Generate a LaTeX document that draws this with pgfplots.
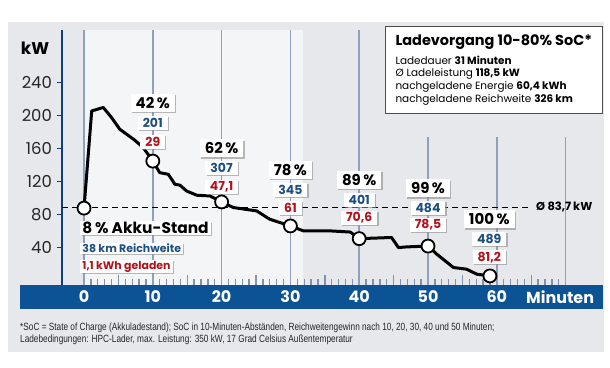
\documentclass[border=0pt]{standalone}
\usepackage{pgfplots}
\pgfplotsset{compat=1.18}
\usepackage{fontspec}
\setmainfont{Poppins}
\newfontfamily\cond[FakeStretch=0.79]{Liberation Sans}
\usetikzlibrary{shadows}
\definecolor{panel}{HTML}{E6E8EB}
\definecolor{lightreg}{HTML}{F4F5F6}
\definecolor{band}{HTML}{0B5394}
\definecolor{axisblue}{HTML}{0D3F7A}
\definecolor{gridc}{HTML}{8EA0BC}
\definecolor{minort}{HTML}{8191AB}
\definecolor{tblue}{HTML}{1D4F80}
\definecolor{tred}{HTML}{B3121B}
\tikzset{
  shad/.style={drop shadow={shadow xshift=1.2bp, shadow yshift=-1.2bp, fill=black!45, opacity=0.6}},
  pct/.style={fill=white, shad, font=\fontsize{15}{16}\selectfont\bfseries, inner xsep=5bp, inner ysep=1bp, minimum height=18bp},
  num/.style={fill=white, shad, font=\fontsize{12.5}{13}\selectfont\bfseries, inner xsep=5bp, inner ysep=0.5bp, minimum height=14bp},
  xl/.style={text=white, font=\fontsize{16}{17}\selectfont\bfseries},
}
\begin{document}
\begin{tikzpicture}
\begin{scope}[x=1bp,y=-1bp]
\fill[white] (0,0) rectangle (610,367);
\fill[panel] (8,22) rectangle (604,352);
\fill[band] (20,285) rectangle (603,309);
\fill[lightreg] (84,30) rectangle (303,285);
\end{scope}
\begin{axis}[
  at={(62bp,-285bp)}, anchor=south west, scale only axis,
  width=542bp, height=255bp,
  xmin=-3.2, xmax=75.58, ymin=-5.2, ymax=303.9,
  axis x line=none, axis y line=left,
  y axis line style={-, draw=axisblue, line width=1.6bp},
  ytick={40,80,...,240},
  ytick style={draw=axisblue, line width=1.3bp},
  tick align=outside, major tick length=4.6bp,
  yticklabel style={font=\fontsize{16.5}{18}\selectfont, text=black!85, xshift=-2bp},
  /pgf/number format/assume math mode=true,
  clip=false,
]
\pgfplotsinvokeforeach{0,10,20,30,40}{\draw[gridc, line width=1.5bp] (axis cs:#1,-5.2) -- (axis cs:#1,303.9);}
\pgfplotsinvokeforeach{50,60,70}{\draw[gridc, line width=1.5bp] (axis cs:#1,-5.2) -- (axis cs:#1,174);}
\pgfplotsinvokeforeach{1,2,3,4,6,7,8,9,11,12,13,14,16,17,18,19,21,22,23,24,26,27,28,29,31,32,33,34,36,37,38,39,41,42,43,44,46,47,48,49,51,52,53,54,56,57,58,59,61,62,63,64,66,67,68,69}{\draw[minort, line width=1.3bp] (axis cs:#1,-5.2) -- (axis cs:#1,2.5);}
\pgfplotsinvokeforeach{5,15,25,35,45,55,65}{\draw[minort, line width=1.4bp] (axis cs:#1,-5.2) -- (axis cs:#1,6.5);}
% x labels in band
\pgfplotsinvokeforeach{0,10,20,30,40,50,60}{\node[xl] at (axis cs:#1,-5.2) [yshift=-12bp] {#1};}
\node[xl] at (axis cs:69.2,-5.2) [yshift=-12bp] {Minuten};
% average line
\addplot[black, line width=1.5bp, dash pattern=on 6bp off 4bp] coordinates {(-3.2,89) (64.8,89)};
\node[anchor=west, font=\fontsize{11.5}{12}\selectfont\bfseries] at (axis cs:65.2,89) {Ø 83,7\,kW};
% charging curve
\addplot[black, line width=3bp, line join=round] coordinates {
(0,88) (1.12,205.8) (2.8,210) (4.0,197.8) (5.2,183.6) (7.2,171.5) (8.6,161.5)
(10,145) (11.0,131) (12.25,129) (13.2,117) (13.95,115.8) (14.9,108.8) (16.4,103.6)
(18.3,102.8) (20,95.5) (21.7,88.7) (25.1,84.6) (27.0,74.5) (30,66.4) (31.9,60.4)
(35.8,60.4) (38.7,59) (40,51) (44.7,52.4) (45.7,40.2) (46.9,41) (50,42)
(51.3,32) (53.7,16) (55.6,14) (57.1,7.9) (59,5.8)};
\addplot[only marks, mark=*, mark size=6.5bp, mark options={fill=white, draw=black, line width=1.8bp}] coordinates {
(0,88) (10,145) (20,95.5) (30,66.4) (40,51) (50,42) (59,5.8)};
% labels
\node[pct] at (axis cs:10,215.4) {42\,\%};
\node[num, text=tblue] at (axis cs:10,191.2) {201};
\node[num, text=tred] at (axis cs:10,168.5) {29};
\node[pct] at (axis cs:20,160.5) {62\,\%};
\node[num, text=tblue] at (axis cs:20,136.6) {307};
\node[num, text=tred] at (axis cs:20,113.9) {47,1};
\node[pct] at (axis cs:30,134.2) {78\,\%};
\node[num, text=tblue] at (axis cs:30,109.9) {345};
\node[num, text=tred] at (axis cs:30,88.5) {61};
\node[pct] at (axis cs:40,122.1) {89\,\%};
\node[num, text=tblue] at (axis cs:40,97.8) {401};
\node[num, text=tred] at (axis cs:40,76.4) {70,6};
\node[pct] at (axis cs:50,112) {99\,\%};
\node[num, text=tblue] at (axis cs:50,87.8) {484};
\node[num, text=tred] at (axis cs:50,67.5) {78,5};
\node[pct] at (axis cs:58.9,74.4) {100\,\%};
\node[num, text=tblue] at (axis cs:58.9,50.5) {489};
\node[num, text=tred] at (axis cs:58.9,28.4) {81,2};
% start labels
\node[anchor=west, fill=white, shad, inner xsep=2bp, inner ysep=1bp, font=\fontsize{15.5}{16}\selectfont\bfseries] at (axis cs:-0.55,63.5) {8\,\% Akku-Stand};
\node[anchor=west, fill=white, shad, inner xsep=2bp, inner ysep=1bp, text=tblue, font=\fontsize{11}{12}\selectfont\bfseries] at (axis cs:-0.55,39.3) {38 km Reichweite};
\node[anchor=west, fill=white, shad, inner xsep=2bp, inner ysep=1bp, text=tred, font=\fontsize{11}{12}\selectfont\bfseries] at (axis cs:-0.55,17) {1,1 kWh geladen};
\end{axis}
\begin{scope}[x=1bp,y=-1bp]
\node[font=\fontsize{17}{18}\selectfont\bfseries] at (35,48) {kW};
\draw[black!70, line width=1bp, fill=white] (385,26) rectangle (602,113);
\node[anchor=west, font=\fontsize{14.5}{15}\selectfont\bfseries] at (392,41.7) {Ladevorgang 10-80\% SoC*};
\node[anchor=west, font=\fontsize{10.5}{11}\selectfont] at (392,60.5) {Ladedauer \textbf{31 Minuten}};
\node[anchor=west, font=\fontsize{10.5}{11}\selectfont] at (392,73.5) {Ø Ladeleistung \textbf{118,5 kW}};
\node[anchor=west, font=\fontsize{10.5}{11}\selectfont] at (392,86.7) {nachgeladene Energie \textbf{60,4 kWh}};
\node[anchor=west, font=\fontsize{10.5}{11}\selectfont] at (392,100) {nachgeladene Reichweite \textbf{326 km}};
\node[anchor=west, inner xsep=0pt, text=black!85, font=\cond\fontsize{10.5}{11}\selectfont] at (20,328) {*SoC = State of Charge (Akkuladestand); SoC in 10-Minuten-Abständen, Reichweitengewinn nach 10, 20, 30, 40 und 50 Minuten;};
\node[anchor=west, inner xsep=0pt, text=black!85, font=\cond\fontsize{10.5}{11}\selectfont] at (20,340) {Ladebedingungen: HPC-Lader, max. Leistung: 350 kW, 17 Grad Celsius Außentemperatur};
\end{scope}
\end{tikzpicture}
\end{document}
